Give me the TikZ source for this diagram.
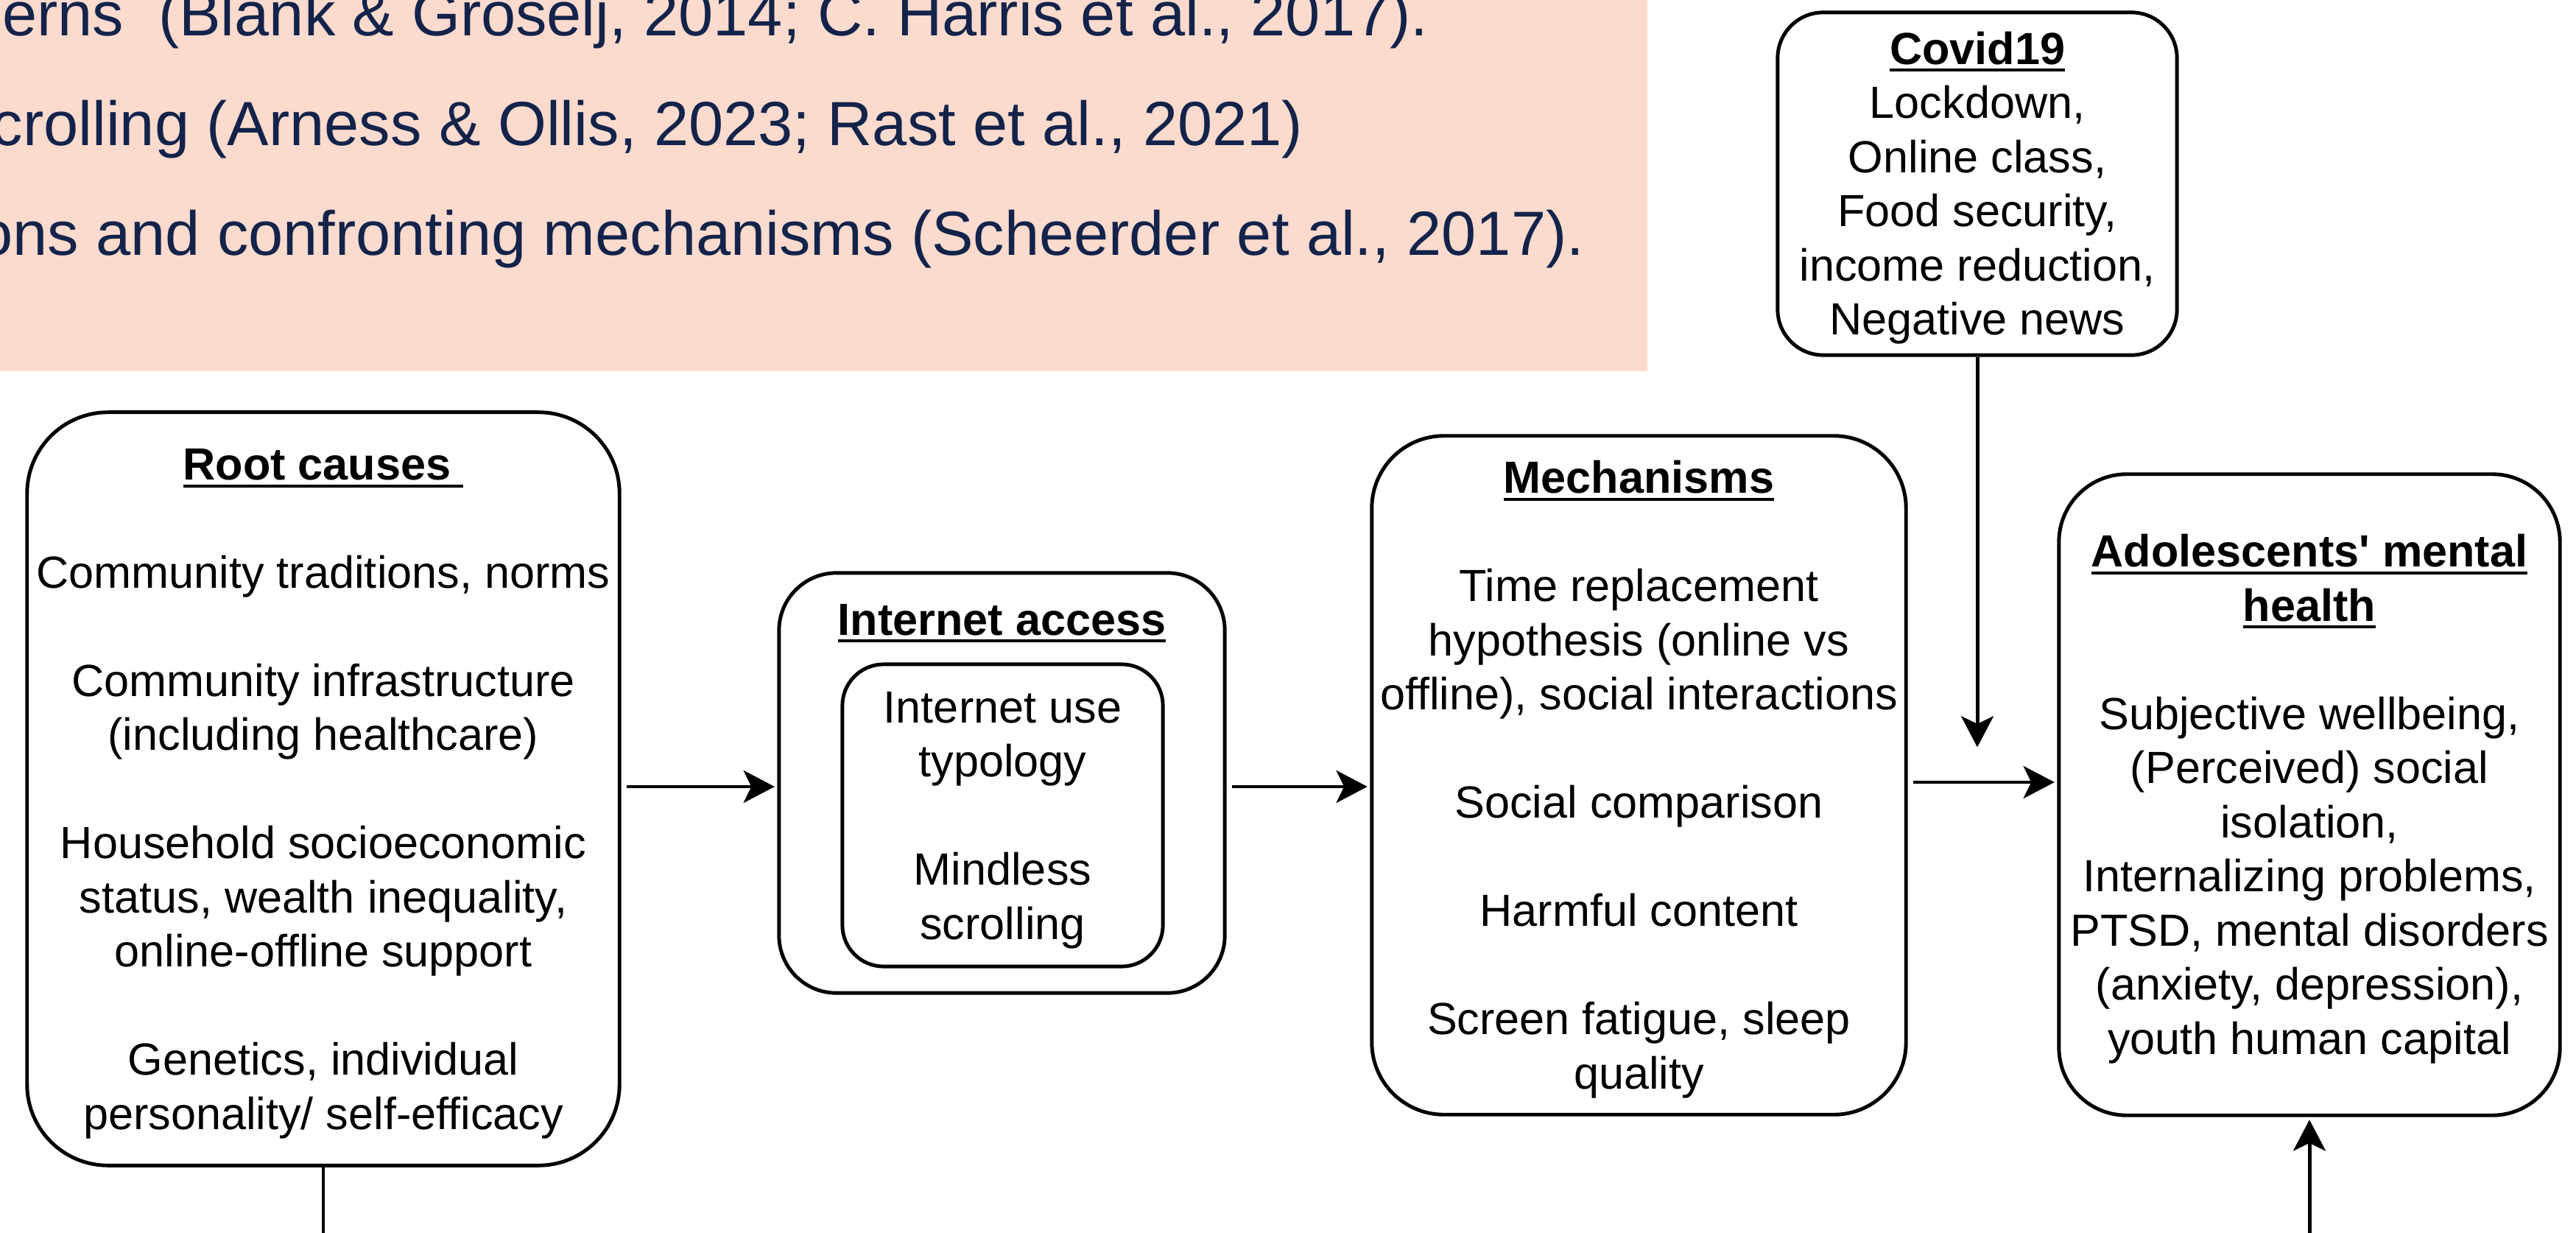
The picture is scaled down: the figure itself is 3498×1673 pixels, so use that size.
\documentclass[tikz,border=0pt]{standalone}
\usepackage{fontspec}
\newfontfamily\lsans{Liberation Sans}
\usetikzlibrary{arrows.meta}
\definecolor{pinkbg}{HTML}{FCDBCF}
\definecolor{navy}{HTML}{13234A}
\newsavebox\ulbox
\newcommand\ulx[1]{\sbox\ulbox{#1}\leavevmode\rlap{\rule[-2.9pt]{\wd\ulbox}{1.1pt}}\usebox\ulbox}
\newcommand\boxfont{\lsans\fontsize{17.4pt}{20.9pt}\selectfont}
\newcommand\pinkfont{\lsans\fontsize{24.1pt}{28pt}\selectfont}
\newcommand\tstrut{\rule[-0.21\baselineskip]{0pt}{\baselineskip}}
\begin{document}
\begin{tikzpicture}[x=0.01cm,y=-0.01cm,
  blk/.style={draw=black, line width=1.4pt, align=center, font=\boxfont, inner sep=0pt, text=black},
  arr/.style={line width=1.4pt, -{Stealth[length=12pt,width=12.5pt,inset=3pt]}, shorten <=2pt, shorten >=1pt},
  plainline/.style={line width=1.4pt},
  pinktext/.style={font=\pinkfont, text=navy, anchor=base east, inner sep=0pt}]
\useasboundingbox (0,0) rectangle (3498,1673);
% pink panel
\node[fill=pinkbg, anchor=north west, inner sep=0pt, outer sep=0pt, minimum width=22.36cm, minimum height=5.04cm] (pink) at (0,0) {};
\node[pinktext] (p1) at (1940,49) {erns\ \ (Blank \& Groselj, 2014; C. Harris et al., 2017).};
\node[pinktext] (p2) at (1770,198) {crolling (Arness \& Ollis, 2023; Rast et al., 2021)};
\node[pinktext] (p3) at (2152,347) {ons and confronting mechanisms (Scheerder et al., 2017).};
% boxes
\node[blk, rounded corners=1.1cm, minimum width=8.04cm, minimum height=10.22cm] (root) at (439,1071)
 {\tstrut\ulx{\textbf{Root causes\ }}\\[20.9pt]Community traditions, norms\\[20.9pt]Community infrastructure\\(including healthcare)\\[20.9pt]Household socioeconomic\\status, wealth inequality,\\online-offline support\\[20.9pt]Genetics, individual\\personality/ self-efficacy\tstrut};
\node[blk, rounded corners=0.78cm, minimum width=6.05cm, minimum height=5.70cm] (inet) at (1360.5,1063) {};
\node[font=\boxfont, anchor=base, inner sep=0pt] (inettitle) at (1360.5,862) {\ulx{\textbf{Internet access}}};
\node[blk, rounded corners=0.56cm, minimum width=4.35cm, minimum height=4.10cm] (inner) at (1361.5,1107)
 {\tstrut Internet use\\typology\\[20.9pt]Mindless\\scrolling\tstrut};
\node[blk, rounded corners=0.98cm, minimum width=7.25cm, minimum height=9.21cm] (mech) at (2225.5,1052.5)
 {\tstrut\ulx{\textbf{Mechanisms}}\\[20.9pt]Time replacement\\hypothesis (online vs\\offline), social interactions\\[20.9pt]Social comparison\\[20.9pt]Harmful content\\[20.9pt]Screen fatigue, sleep\\quality\tstrut};
\node[blk, rounded corners=0.62cm, minimum width=5.42cm, minimum height=4.65cm] (covid) at (2685,249.5)
 {\tstrut\ulx{\textbf{Covid19}}\\Lockdown,\\Online class,\\Food security,\\income reduction,\\Negative news\tstrut};
\node[blk, rounded corners=0.92cm, minimum width=6.80cm, minimum height=8.70cm] (adol) at (3136,1079)
 {\tstrut\ulx{\textbf{Adolescents' mental}}\\\ulx{\textbf{health}}\\[20.9pt]Subjective wellbeing,\\(Perceived) social\\isolation,\\Internalizing problems,\\PTSD, mental disorders\\(anxiety, depression),\\youth human capital\tstrut};
% helper coordinates
\coordinate (ya) at (0,1068);
\coordinate (yb) at (0,1062);
\coordinate (ct) at (2689,1018);
\coordinate (ab) at (3136,1690);
\coordinate (rb) at (439,1690);
% connectors
\draw[arr] (root.east |- ya) -- (inet.west |- ya);
\draw[arr] (inet.east |- ya) -- (mech.west |- ya);
\draw[arr] (mech.east |- yb) -- (adol.west |- yb);
\draw[arr, shorten <=0pt] (covid.south) -- (covid.south |- ct);
\draw[arr, shorten <=0pt] (ab) -- (adol.south);
\draw[plainline] (root.south) -- (rb);
\end{tikzpicture}
\end{document}
